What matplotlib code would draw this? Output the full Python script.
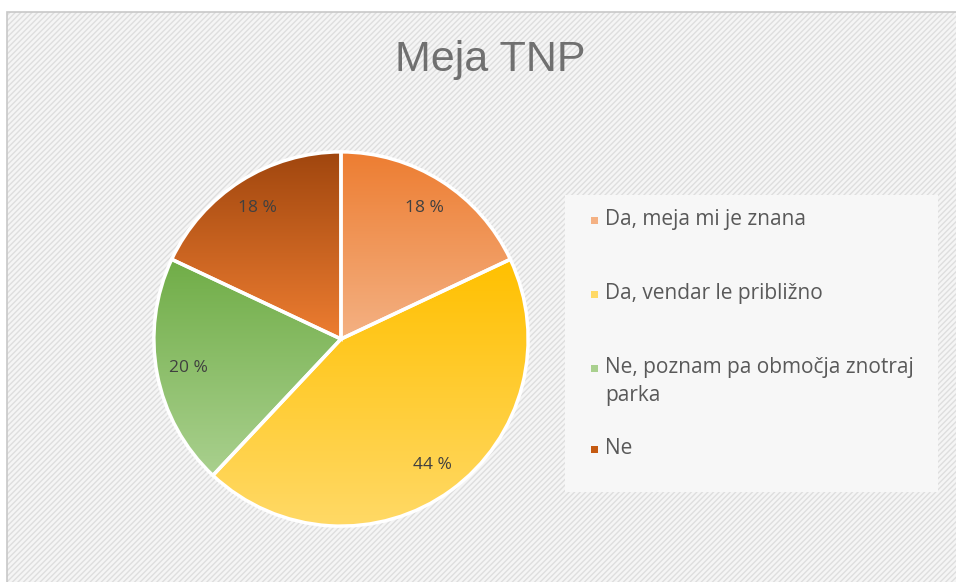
import matplotlib.pyplot as plt
import numpy as np
from matplotlib.patches import Rectangle
from matplotlib.colors import LinearSegmentedColormap

labels = ['Da, meja mi je znana', 'Da, vendar le približno',
          'Ne, poznam pa območja znotraj\nparka', 'Ne']
values = [18, 44, 20, 18]
# gradient per slice: top colour, bottom colour
grad = [('#ED7D31', '#F4B183'), ('#FFC000', '#FFD966'),
        ('#70AD47', '#A9D08E'), ('#A0460E', '#ED7D31')]
legend_col = ['#F4B183', '#FFD966', '#A9D08E', '#C55A11']

W, H = 956, 582
fig = plt.figure(figsize=(W / 100, H / 100), dpi=100)
fig.patch.set_facecolor('white')

# chart area background with fine diagonal pattern
bg = Rectangle((7 / W, -0.05), 1.1, 1.05 - 12 / H, transform=fig.transFigure,
               facecolor='#F5F5F5', edgecolor='#DEDEDE', hatch='//////',
               linewidth=0, zorder=0)
fig.patches.append(bg)
fig.patches.append(Rectangle((7 / W, -0.05), 1.1, 1.05 - 12 / H, transform=fig.transFigure,
                             facecolor='none', edgecolor='#C8C8C8', linewidth=1.2, zorder=1))

# legend box
lx0, ly0, lx1, ly1 = 565, 195, 938, 492
fig.patches.append(Rectangle((lx0 / W, 1 - ly1 / H), (lx1 - lx0) / W, (ly1 - ly0) / H,
                             transform=fig.transFigure, facecolor='#F7F7F7',
                             edgecolor='none', zorder=1))

fig.text(490 / W, 1 - 60 / H, 'Meja TNP', ha='center', va='center',
         fontsize=31, color='#707070', family='Liberation Sans')

cx, cy, r = 341, 339, 189
ax = fig.add_axes([(cx - r) / W, (H - cy - r) / H, 2 * r / W, 2 * r / H])
ax.set_zorder(5)
wedges, _, autotexts = ax.pie(values, startangle=90, counterclock=False, radius=1,
                              autopct=lambda p: f'{p:.0f} %', pctdistance=0.83,
                              wedgeprops=dict(edgecolor='white', linewidth=2.5),
                              textprops=dict(color='#404040', fontsize=12.5,
                                             family='Open Sans'))
ax.set_aspect('equal')
ax.axis('off')

grid = np.linspace(0, 1, 256).reshape(-1, 1)
for w, (top, bot) in zip(wedges, grad):
    ext = w.get_path().get_extents()
    cmap = LinearSegmentedColormap.from_list('g', [top, bot])
    im = ax.imshow(grid, cmap=cmap, extent=(ext.x0, ext.x1, ext.y0, ext.y1),
                   origin='upper', aspect='auto', zorder=1)
    im.set_clip_path(w)
    w.set_facecolor('none')
    w.set_zorder(2)
for t in autotexts:
    t.set_zorder(3)
ax.set_xlim(-1.01, 1.01)
ax.set_ylim(-1.01, 1.01)

# legend entries (marker aligned with first line, wrapped lines below)
rows = [220, 294, 368, 449]
for lab, col, y in zip(labels, legend_col, rows):
    fig.patches.append(Rectangle((591 / W, 1 - (y + 3.5) / H), 7 / W, 7 / H,
                                 transform=fig.transFigure, facecolor=col,
                                 edgecolor='none', zorder=2))
    for i, line in enumerate(lab.split('\n')):
        fig.text(605 / W, 1 - (y + 5 + i * 28) / H, line, ha='left', va='baseline',
                 fontsize=15, color='#595959', family='Open Sans')

plt.savefig('out.png', dpi=100)
